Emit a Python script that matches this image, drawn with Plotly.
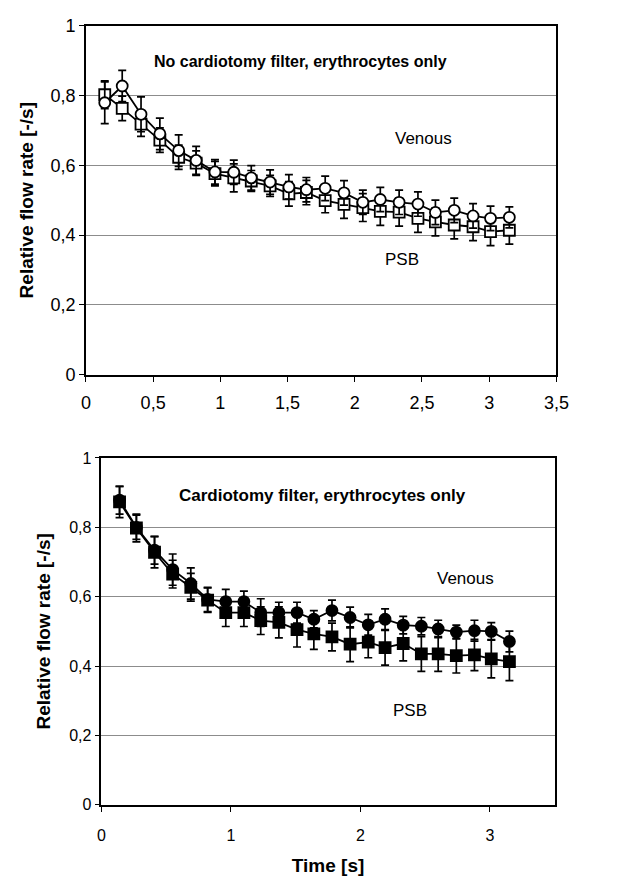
import plotly.graph_objects as go

time = [0.14, 0.27, 0.41, 0.55, 0.69, 0.82, 0.96, 1.10, 1.23, 1.37, 1.51, 1.64,
        1.78, 1.92, 2.06, 2.19, 2.33, 2.47, 2.60, 2.74, 2.88, 3.01, 3.15]

# Top: no cardiotomy filter
top_venous = [0.779, 0.827, 0.746, 0.690, 0.642, 0.614, 0.581, 0.580, 0.564, 0.552, 0.538, 0.530,
              0.534, 0.521, 0.494, 0.502, 0.494, 0.489, 0.465, 0.471, 0.455, 0.448, 0.451]
top_venous_err = [0.06, 0.045, 0.05, 0.045, 0.045, 0.04, 0.035, 0.035, 0.035, 0.035, 0.035, 0.035,
                  0.035, 0.035, 0.035, 0.035, 0.035, 0.035, 0.035, 0.035, 0.035, 0.035, 0.03]
top_psb = [0.802, 0.763, 0.718, 0.672, 0.623, 0.606, 0.576, 0.564, 0.555, 0.541, 0.518, 0.522,
           0.499, 0.488, 0.479, 0.468, 0.466, 0.448, 0.438, 0.429, 0.424, 0.410, 0.414]
top_psb_err = [0.04, 0.035, 0.035, 0.035, 0.035, 0.035, 0.035, 0.04, 0.03, 0.03, 0.035, 0.035,
               0.035, 0.04, 0.04, 0.04, 0.04, 0.04, 0.04, 0.04, 0.04, 0.04, 0.04]

# Bottom: cardiotomy filter
bot_venous = [0.878, 0.800, 0.734, 0.678, 0.638, 0.592, 0.586, 0.586, 0.554, 0.554, 0.554, 0.535,
              0.560, 0.540, 0.519, 0.535, 0.518, 0.515, 0.507, 0.498, 0.502, 0.500, 0.471]
bot_venous_err = [0.04, 0.035, 0.04, 0.045, 0.045, 0.035, 0.035, 0.03, 0.04, 0.03, 0.03, 0.025,
                  0.03, 0.03, 0.03, 0.03, 0.025, 0.025, 0.025, 0.02, 0.03, 0.025, 0.03]
bot_psb = [0.873, 0.798, 0.728, 0.665, 0.627, 0.590, 0.554, 0.554, 0.531, 0.526, 0.505, 0.493,
           0.484, 0.463, 0.469, 0.453, 0.465, 0.435, 0.435, 0.430, 0.432, 0.421, 0.413]
bot_psb_err = [0.045, 0.04, 0.045, 0.04, 0.04, 0.035, 0.04, 0.04, 0.04, 0.045, 0.05, 0.045,
               0.04, 0.05, 0.045, 0.05, 0.05, 0.05, 0.05, 0.05, 0.045, 0.055, 0.055]

top_xticks = [0, 0.5, 1, 1.5, 2, 2.5, 3, 3.5]
top_xlabels = ["0", "0,5", "1", "1,5", "2", "2,5", "3", "3,5"]
yticks = [0, 0.2, 0.4, 0.6, 0.8, 1]
ylabels = ["0", "0,2", "0,4", "0,6", "0,8", "1"]
bot_xticks = [0, 1, 2, 3]
bot_xlabels = ["0", "1", "2", "3"]

FONT = "Liberation Sans, Arial, Helvetica, sans-serif"

fig = go.Figure()

def add_series(y, err, symbol, fill, xa, ya):
    fig.add_trace(go.Scatter(
        x=time, y=y, mode="lines+markers",
        line=dict(color="black", width=1.8),
        marker=dict(symbol=symbol, size=11, color=fill, line=dict(color="black", width=1.8)),
        error_y=dict(type="data", array=err, visible=True, color="black", thickness=1.7, width=4),
        xaxis=xa, yaxis=ya, showlegend=False,
    ))

add_series(top_psb, top_psb_err, "square", "white", "x", "y")
add_series(top_venous, top_venous_err, "circle", "white", "x", "y")
add_series(bot_psb, bot_psb_err, "square", "black", "x2", "y2")
add_series(bot_venous, bot_venous_err, "circle", "black", "x2", "y2")

def axis_common(size):
    return dict(showline=True, linecolor="black", linewidth=1.5, mirror=True,
                ticks="outside", ticklen=5, tickcolor="black", tickwidth=1,
                tickfont=dict(family=FONT, size=size, color="black"), zeroline=False)

fig.update_layout(
    width=626, height=882, margin=dict(l=0, r=0, t=0, b=0),
    plot_bgcolor="white", paper_bgcolor="white",
    font=dict(family=FONT, color="black"),
    xaxis=dict(domain=[0.1331, 0.9069], range=[0, 3.5], tickvals=top_xticks, ticktext=top_xlabels,
               showgrid=False, anchor="y", ticklabelstandoff=6, **axis_common(18)),
    yaxis=dict(domain=[0.5768, 0.9819], range=[0, 1], tickvals=yticks, ticktext=ylabels,
               showgrid=True, gridcolor="#8c8c8c", gridwidth=1, anchor="x",
               title=dict(text="<b>Relative flow rate [-/s]</b>", font=dict(family=FONT, size=19), standoff=12),
               **axis_common(18)),
    xaxis2=dict(domain=[0.1586, 0.9042], range=[0, 3.5], tickvals=bot_xticks, ticktext=bot_xlabels,
                showgrid=False, anchor="y2", ticklabelstandoff=10,
                title=dict(text="<b>Time [s]</b>", font=dict(family=FONT, size=19), standoff=16),
                **axis_common(16)),
    yaxis2=dict(domain=[0.0779, 0.4804], range=[0, 1], tickvals=yticks, ticktext=ylabels,
                showgrid=True, gridcolor="#8c8c8c", gridwidth=1, anchor="x2",
                title=dict(text="<b>Relative flow rate [-/s]</b>", font=dict(family=FONT, size=19), standoff=14),
                **axis_common(16)),
)

annots = [
    dict(x=1.60, y=0.897, xref="x", yref="y", text="<b>No cardiotomy filter, erythrocytes only</b>", size=16),
    dict(x=2.51, y=0.676, xref="x", yref="y", text="Venous", size=17),
    dict(x=2.35, y=0.329, xref="x", yref="y", text="PSB", size=17),
    dict(x=1.71, y=0.891, xref="x2", yref="y2", text="<b>Cardiotomy filter, erythrocytes only</b>", size=17),
    dict(x=2.81, y=0.652, xref="x2", yref="y2", text="Venous", size=17),
    dict(x=2.38, y=0.271, xref="x2", yref="y2", text="PSB", size=17),
]
for a in annots:
    fig.add_annotation(x=a["x"], y=a["y"], xref=a["xref"], yref=a["yref"], text=a["text"],
                       showarrow=False, font=dict(family=FONT, size=a["size"], color="black"))

fig.write_html("out.html")
